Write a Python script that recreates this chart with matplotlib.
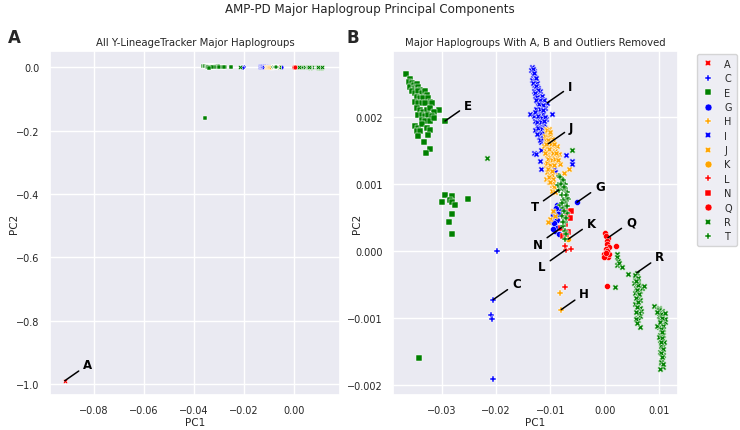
import numpy as np
import matplotlib
matplotlib.use("Agg")
import matplotlib.pyplot as plt
import seaborn as sns
from matplotlib.lines import Line2D

# ---------------- data (PC1 in units of 1e-4, PC2 in units of 1e-5) ----------------
X_UNIT = 1e-4
Y_UNIT = 1e-5

haplogroups = ["A", "C", "E", "G", "H", "I", "J", "K", "L", "N", "Q", "R", "T"]

# first element of each list is the annotated point
C_pc1 = [-205, -199, -209, -208, -205]
C_pc2 = [-72, 1, -95, -101, -191]

E_pc1 = [-294, -366, -358, -361, -355, -358, -352, -349, -346, -343, -340, -355, -349, -343, -337,
         -331, -328, -346, -340, -334, -325, -321, -349, -343, -337, -331, -318, -306, -346, -340,
         -334, -328, -321, -315, -343, -337, -331, -325, -318, -337, -331, -321, -314, -350, -344,
         -337, -328, -346, -340, -321, -343, -325, -332, -321, -329,
         -295, -282, -285, -299, -281, -276, -252, -282, -286, -282, -342]
E_pc2 = [194, 264, 257, 252, 250, 245, 248, 243, 249, 245, 240, 238, 235, 238, 235,
         238, 233, 230, 228, 228, 228, 223, 223, 221, 221, 221, 221, 211, 213, 211,
         208, 211, 213, 208, 203, 203, 201, 203, 201, 196, 194, 194, 199, 186, 184,
         189, 184, 179, 179, 181, 172, 173, 163, 153, 147,
         84, 82, 77, 74, 74, 69, 78, 56, 43, 25, -159]

G_pc1 = [-51, -88, -91, -85, -94, -88, -98, -92, -91, -85, -82, -96, -90, -86, -93, -87, -95]
G_pc2 = [73, 69, 61, 59, 49, 47, 44, 37, 30, 26, 64, 54, 65, 55, 42, 34, 33]

H_pc1 = [-80, -82]
H_pc2 = [-87, -62]

I_pc1 = [-106, -134, -135, -131, -133, -129, -134, -128, -131, -125, -128, -123, -131, -125, -120,
         -128, -121, -115, -125, -118, -112, -123, -117, -110, -137, -131, -125, -118, -114, -97,
         -128, -121, -115, -109, -125, -118, -112, -128, -120, -121, -115, -117, -131, -126, -118,
         -120, -117, -72, -61, -60, -94, -91, -97,
         -133, -130, -127, -132, -126, -122, -129, -124, -119, -127, -121, -114, -126, -120, -113,
         -128, -122, -116, -110, -124, -118, -112, -122, -116, -110, -118, -124, -112, -119, -113]
I_pc2 = [221, 275, 270, 268, 263, 260, 255, 253, 248, 250, 243, 243, 238, 236, 238,
         231, 228, 231, 224, 224, 226, 216, 216, 214, 205, 201, 206, 209, 204, 204,
         194, 197, 194, 197, 187, 187, 189, 180, 179, 170, 172, 162, 146, 145, 151,
         134, 123, 143, 135, 130, 123, 118, 113,
         272, 265, 258, 250, 246, 240, 235, 230, 226, 226, 220, 218, 212, 212, 210,
         208, 202, 199, 200, 192, 192, 194, 184, 182, 184, 176, 174, 176, 166, 168]

J_pc1 = [-104, -109, -106, -103, -110, -104, -100, -97, -109, -102, -96, -112, -106, -100, -94,
         -88, -109, -103, -97, -91, -85, -106, -100, -94, -88, -103, -97, -91, -82, -109,
         -102, -65, -75, -106, -100, -109, -103, -97, -104, -98, -101, -95, -92, -86, -95,
         -101, -104, -92,
         -107, -101, -105, -99, -93, -108, -103, -96, -90, -110, -104, -98, -92, -86, -106,
         -100, -94, -104, -98, -102, -96, -100, -94, -98, -92]
J_pc2 = [160, 182, 177, 182, 172, 170, 174, 167, 165, 162, 162, 157, 155, 155, 156,
         157, 150, 148, 150, 150, 145, 143, 140, 143, 140, 135, 133, 135, 130, 128,
         126, 123, 116, 118, 113, 108, 103, 98, 126, 114, 106, 101, 94, 114, 60,
         48, 43, 52,
         180, 178, 165, 160, 160, 160, 152, 146, 146, 146, 138, 136, 138, 136, 132,
         128, 128, 122, 120, 110, 108, 103, 96, 90, 88]

K_pc1 = [-67]
K_pc2 = [18]

L_pc1 = [-72, -74, -62, -73, -70, -66]
L_pc2 = [2, 8, 4, -53, 62, 50]

N_pc1 = [-80, -62, -68, -76, -70, -64, -73, -71]
N_pc2 = [35, 60, 28, 23, 54, 49, 40, 25]

Q_pc1 = [6, 0, 2, 4, 5, 8, 2, -2, 2, 6, 8, 20, 4, 5, -1, 3]
Q_pc2 = [20, 27, 23, 15, 11, 6, 4, -4, -7, -8, -4, 7, -52, 1, -9, -2]

R_pc1 = [59, 23, 22, 24, 22, 26, 32, 18, 42,
         56, 59, 62, 65, 58, 64, 56, 61, 65, 59, 56, 64, 67, 59, 65, 62, 58, 68, 72, 53, 65,
         55, 62, 61, 57, 60, 63, 58, 62, 60, 63, 57, 60,
         91, 96, 99, 102, 105, 99, 108, 102, 105, 111, 99, 105, 108, 102, 105, 103, 108, 105,
         102, 107, 105, 103, 107, 99, 111, 96, 108, 101, 109, 104,
         100, 104, 106, 101, 107, 103, 106, 100, 106, 104, 107, 103, 106, 104, 108, 102, 97, 110,
         -217, -61]
R_pc2 = [-32, -4, -9, -14, -20, -18, -23, -53, -34,
         -38, -42, -47, -52, -55, -60, -62, -67, -72, -78, -79, -85, -89, -99, -96, -103, -101,
         -55, -52, -47, -113, -35, -40, -50, -45, -58, -64, -70, -75, -83, -92, -90, -107,
         -82, -86, -84, -91, -89, -96, -96, -103, -108, -106, -113, -118, -116, -125, -133, -138,
         -142, -147, -150, -155, -162, -167, -173, -86, -101, -111, -125, -133, -135, -142,
         -88, -94, -99, -106, -111, -116, -121, -128, -130, -136, -146, -152, -158, -165, -168,
         -175, -90, -92,
         139, 151]

T_pc1 = [-85, -85, -79, -73, -82, -76, -70, -79, -67, -73, -82, -76, -70, -79, -73, -76, -74,
         -82, -76, -73, -79, -70, -86, -80, -75, -72, -77, -70, -75, -78, -71, -76, -74, -72]
T_pc2 = [91, 112, 107, 100, 98, 93, 88, 83, 78, 73, 69, 64, 57, 52, 44, 37, 18,
         111, 106, 94, 84, 79, 99, 100, 96, 84, 76, 68, 60, 72, 50, 44, 30, 26]

# haplogroup A and the outliers only appear in the full (panel A) plot
A_pc1 = [-0.0916]
A_pc2 = [-0.99]
E_outlier_pc1 = [-0.0355]
E_outlier_pc2 = [-0.159]

colors = {"A": "#ff0000", "C": "#0000ff", "E": "#008000", "G": "#0000ff", "H": "#ffa500",
          "I": "#0000ff", "J": "#ffa500", "K": "#ffa500", "L": "#ff0000", "N": "#ff0000",
          "Q": "#ff0000", "R": "#008000", "T": "#008000"}
markers = {"A": "X", "C": "P", "E": "s", "G": "o", "H": "P", "I": "X", "J": "X", "K": "o",
           "L": "P", "N": "s", "Q": "o", "R": "X", "T": "P"}

raw = {"C": (C_pc1, C_pc2), "E": (E_pc1, E_pc2), "G": (G_pc1, G_pc2), "H": (H_pc1, H_pc2),
       "I": (I_pc1, I_pc2), "J": (J_pc1, J_pc2), "K": (K_pc1, K_pc2), "L": (L_pc1, L_pc2),
       "N": (N_pc1, N_pc2), "Q": (Q_pc1, Q_pc2), "R": (R_pc1, R_pc2), "T": (T_pc1, T_pc2)}
reduced = {k: (np.array(v[0]) * X_UNIT, np.array(v[1]) * Y_UNIT) for k, v in raw.items()}

full = dict(reduced)
full["A"] = (np.array(A_pc1), np.array(A_pc2))
full["E"] = (np.concatenate([reduced["E"][0], E_outlier_pc1]),
             np.concatenate([reduced["E"][1], E_outlier_pc2]))

# ---------------- plotting ----------------
sns.set_theme(style="darkgrid")
plt.rcParams["font.family"] = ["DejaVu Sans"]

fig = plt.figure(figsize=(7.4, 4.31), dpi=100)
top_px, bot_px = 52, 396
axA = fig.add_axes([50 / 740, 1 - bot_px / 431, 290 / 740, (bot_px - top_px) / 431])
axB = fig.add_axes([393 / 740, 1 - bot_px / 431, 285 / 740, (bot_px - top_px) / 431])


def draw(ax, data, size):
    for hg in haplogroups:
        if hg not in data:
            continue
        x, y = data[hg]
        ax.scatter(x, y, marker=markers[hg], c=colors[hg], s=size,
                   edgecolors="white", linewidths=0.35, zorder=3)


draw(axA, full, 12)
draw(axB, reduced, 19)


def label(ax, text, x, y, left=False):
    off = (-17, -12) if left else (16.5, 11.5)
    ax.annotate(text, xy=(x, y), xytext=off, textcoords="offset points",
                ha="center", va="center", fontsize=8.5, fontweight="bold", color="black",
                arrowprops=dict(arrowstyle="-", color="black", lw=1.1, shrinkA=1, shrinkB=0),
                zorder=5)


label(axA, "A", full["A"][0][0], full["A"][1][0])
for hg in ["C", "E", "G", "H", "I", "J", "K", "N", "L", "Q", "R", "T"]:
    x, y = reduced[hg]
    label(axB, hg, x[0], y[0], left=hg in ("T", "N", "L"))

axA.set_xlim(-0.0975, 0.0183)
axA.set_ylim(-1.035, 0.051)
axA.set_xticks([-0.08, -0.06, -0.04, -0.02, 0.0])
axA.set_yticks([0.0, -0.2, -0.4, -0.6, -0.8, -1.0])
axB.set_xticks([-0.03, -0.02, -0.01, 0.0, 0.01])
axB.set_yticks([0.002, 0.001, 0.0, -0.001, -0.002])

for ax, title in [(axA, "All Y-LineageTracker Major Haplogroups"),
                  (axB, "Major Haplogroups With A, B and Outliers Removed")]:
    ax.set_title(title, fontsize=7.3, pad=4, color="#262626")
    ax.set_xlabel("PC1", fontsize=7.5, labelpad=1, color="#262626")
    ax.set_ylabel("PC2", fontsize=7.5, color="#262626")
    ax.tick_params(labelsize=7, pad=1.5, colors="#262626")

axA.yaxis.set_label_coords(-0.107, 0.5)
axB.yaxis.set_label_coords(-0.109, 0.5)

fig.suptitle("AMP-PD Major Haplogroup Principal Components", y=1 - 10 / 431,
             va="center", fontsize=8.6, color="#262626")
fig.text(8 / 740, 1 - 38 / 431, "A", fontsize=12, fontweight="bold", va="center")
fig.text(347 / 740, 1 - 38 / 431, "B", fontsize=12, fontweight="bold", va="center")

handles = [Line2D([], [], marker=markers[h], color=colors[h], linestyle="", markersize=5,
                  markeredgecolor="white", markeredgewidth=0.35) for h in haplogroups]
fig.legend(handles, haplogroups, loc="upper left", bbox_to_anchor=(697 / 740, 1 - 55 / 431),
           fontsize=7, frameon=True, handlelength=1.2, handletextpad=1.1,
           borderpad=0.5, labelspacing=0.45, borderaxespad=0)

fig.savefig("out.png", dpi=100)
